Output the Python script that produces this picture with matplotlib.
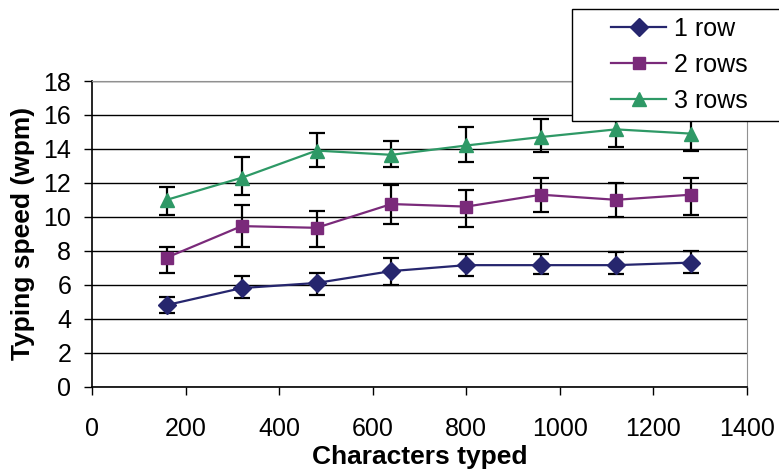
import numpy as np
from matplotlib import pyplot as plt
from matplotlib.patches import Rectangle

plt.rcParams['font.family'] = ['Liberation Sans', 'DejaVu Sans']

# characters typed
chars = [160, 320, 480, 640, 800, 960, 1120, 1280]

# typing speed (wpm) and error bar ranges
one_row = [4.8, 5.8, 6.1, 6.8, 7.15, 7.15, 7.15, 7.3]
one_lo = [4.35, 5.2, 5.4, 6.0, 6.5, 6.6, 6.6, 6.7]
one_hi = [5.3, 6.5, 6.7, 7.6, 7.8, 7.8, 7.9, 8.0]

two_rows = [7.6, 9.45, 9.35, 10.75, 10.6, 11.3, 11.0, 11.3]
two_lo = [6.7, 8.2, 8.2, 9.6, 9.4, 10.3, 10.0, 10.1]
two_hi = [8.2, 10.7, 10.35, 11.9, 11.6, 12.3, 12.0, 12.3]

three_rows = [11.0, 12.3, 13.9, 13.65, 14.2, 14.7, 15.15, 14.9]
three_lo = [10.1, 11.3, 12.95, 12.95, 13.2, 13.8, 14.1, 13.85]
three_hi = [11.75, 13.5, 14.95, 14.45, 15.3, 15.75, 16.2, 16.0]

W, H = 779, 473
fig = plt.figure(figsize=(W / 100, H / 100), dpi=100)
ax = fig.add_axes([92 / W, 1 - 386.5 / H, (747 - 92) / W, (386.5 - 81) / H])

series = [
    ('1 row', one_row, one_lo, one_hi, '#26266E', 'D', 9),
    ('2 rows', two_rows, two_lo, two_hi, '#7A2A7A', 's', 9),
    ('3 rows', three_rows, three_lo, three_hi, '#2E9966', '^', 10.5),
]

handles = []
for name, y, lo, hi, col, mk, ms in series:
    y = np.array(y)
    err = [y - np.array(lo), np.array(hi) - y]
    ax.errorbar(chars, y, yerr=err, fmt='none', ecolor='black',
                elinewidth=1.6, capsize=5.5, capthick=1.6, zorder=2)
    h, = ax.plot(chars, y, color=col, lw=1.6, marker=mk, ms=ms,
                 markeredgecolor=col, label=name, zorder=3)
    handles.append(h)

ax.set_xlim(0, 1400)
ax.set_ylim(0, 18)
ax.set_xticks(range(0, 1401, 200))
ax.set_yticks(range(0, 19, 2))
ax.yaxis.grid(True, color='black', lw=1.0)
ax.set_axisbelow(True)

ax.spines['top'].set_color('#909090')
ax.spines['right'].set_color('#909090')
ax.spines['left'].set_linewidth(1.2)
ax.spines['bottom'].set_linewidth(1.2)
ax.tick_params(axis='both', labelsize=18, direction='out', length=6, width=1)
ax.tick_params(axis='x', pad=16)
ax.tick_params(axis='y', pad=9)

ax.set_xlabel('Characters typed', fontsize=19, fontweight='bold', labelpad=3)
ax.set_ylabel('Typing speed (wpm)', fontsize=19, fontweight='bold', labelpad=6)

# legend box runs past the right edge of the figure
fig.patches.append(Rectangle((572 / W, 1 - 121 / H), 240 / W, 112 / H,
                             transform=fig.transFigure, facecolor='white',
                             edgecolor='black', lw=1.0, zorder=5))
leg = fig.legend(handles=handles, loc='upper left',
                 bbox_to_anchor=(611 / W, 1 - 17 / H), fontsize=18,
                 frameon=False, borderpad=0, labelspacing=0.47,
                 handlelength=2.2, handletextpad=0.3, borderaxespad=0)
leg.set_zorder(6)

fig.savefig('out.png', dpi=100)
